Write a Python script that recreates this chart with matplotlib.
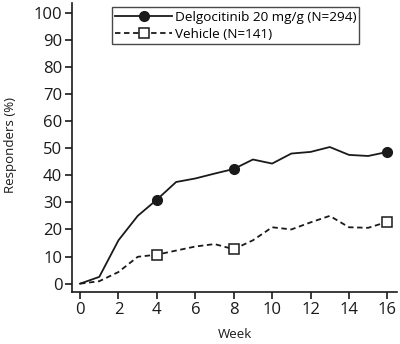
import matplotlib.pyplot as plt
from matplotlib.lines import Line2D
import numpy as np

plt.rcParams["font.family"] = ["Open Sans", "DejaVu Sans"]

weeks = np.arange(0, 17)
delgo = [0, 2.5, 16, 25, 31, 37.5, 38.8, 40.6, 42.3, 45.8, 44.3, 48.0, 48.6, 50.4, 47.5, 47.1, 48.6]
vehicle = [0, 0.9, 4.3, 9.9, 10.7, 12.2, 13.7, 14.6, 12.7, 16.0, 20.8, 20.0, 22.6, 25.0, 20.8, 20.6, 22.8]
marker_weeks = [4, 8, 16]
label_delgo = "Delgocitinib 20 mg/g (N=294)"
label_vehicle = "Vehicle (N=141)"

fig = plt.figure(figsize=(4.0, 3.44), dpi=100)
ax = fig.add_axes([0.18, 0.151, 0.8125, 0.84])

col = "#1a1a1a"
dash = (0, (3, 2))
idx = [list(weeks).index(w) for w in marker_weeks]
ax.plot(weeks, delgo, color=col, lw=1.3, linestyle="-", marker="o", markevery=idx,
        markersize=7, markerfacecolor=col, markeredgecolor=col)
ax.plot(weeks, vehicle, color=col, lw=1.3, linestyle=dash, marker="s", markevery=idx,
        markersize=7, markerfacecolor="white", markeredgecolor=col, markeredgewidth=1.1)

ax.set_xlim(-0.42, 16.5)
ax.set_ylim(-3.1, 103.5)
ax.set_xticks(np.arange(0, 17, 2))
ax.set_yticks(np.arange(0, 101, 10))
for s in ["top", "right"]:
    ax.spines[s].set_visible(False)
for s in ["left", "bottom"]:
    ax.spines[s].set_linewidth(1.2)
    ax.spines[s].set_color(col)
ax.tick_params(direction="out", length=5, width=1.2, color=col, labelsize=12, labelcolor=col, pad=2)

ax.set_xlabel("Week", fontsize=9.5, color=col)
ax.xaxis.set_label_coords(0.5, -0.125)
ax.set_ylabel("Responders (%)", fontsize=9.5, color=col)
ax.yaxis.set_label_coords(-0.168, 0.51)

handles = [
    Line2D([], [], color=col, lw=1.3, linestyle="-", marker="o", markersize=7,
           markerfacecolor=col, markeredgecolor=col),
    Line2D([], [], color=col, lw=1.3, linestyle=dash, marker="s", markersize=7,
           markerfacecolor="white", markeredgecolor=col, markeredgewidth=1.1),
]
leg = ax.legend(handles, [label_delgo, label_vehicle], loc="upper left",
                bbox_to_anchor=(0.123, 0.985), fontsize=9.7, frameon=True,
                fancybox=False, handlelength=4.2, borderpad=0.25, labelspacing=0.28,
                handletextpad=0.2, borderaxespad=0, numpoints=1)
leg.get_frame().set_edgecolor(col)
leg.get_frame().set_linewidth(1.0)

fig.savefig("out.png", dpi=100)
